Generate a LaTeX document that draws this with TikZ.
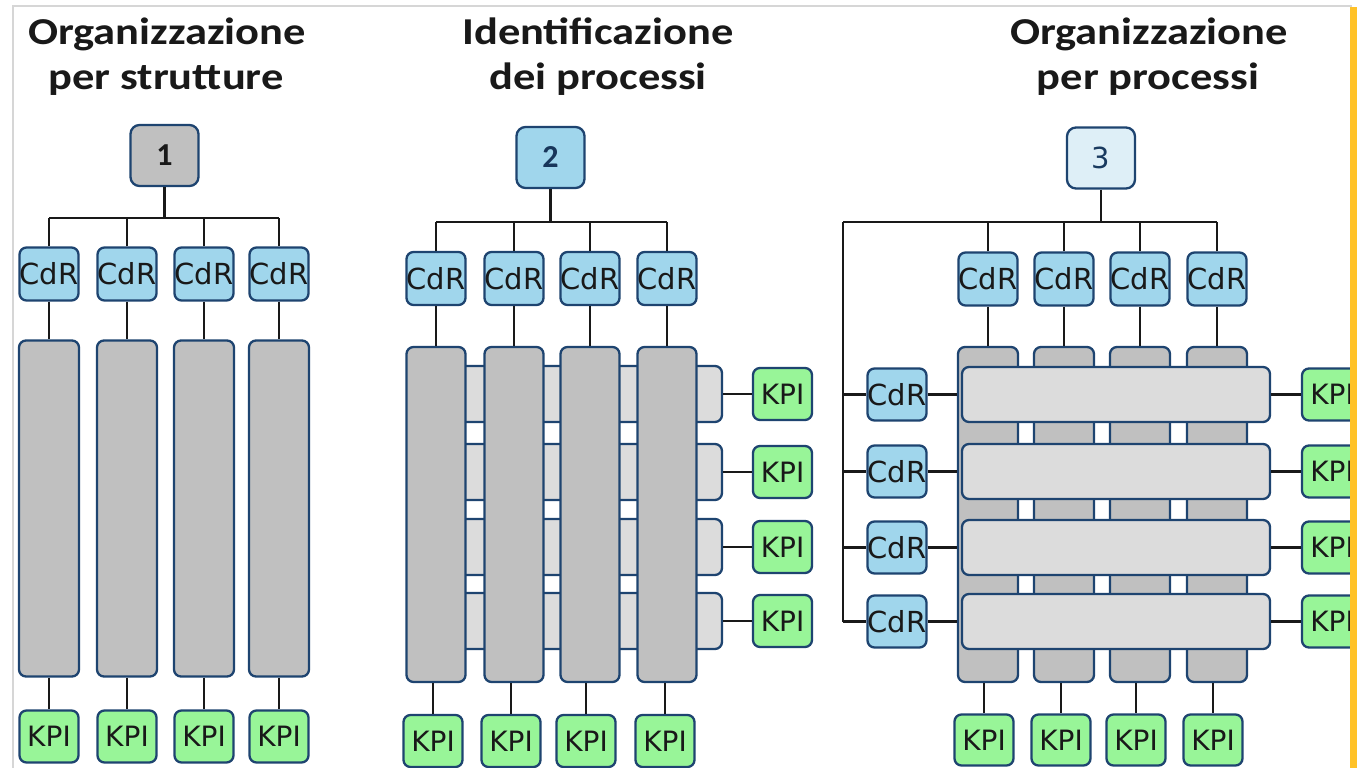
\documentclass[tikz,border=0pt]{standalone}
\usepackage{fontspec}
\setmainfont{DejaVu Sans}
\newfontfamily\titlefont{Carlito}[FakeStretch=1.17]
\newfontfamily\numfont{Carlito}
\newfontfamily\boxfont{DejaVu Sans}
\definecolor{bord}{RGB}{30,68,112}
\definecolor{darkgray}{RGB}{192,192,192}
\definecolor{litegray}{RGB}{220,220,220}
\definecolor{cdrblue}{RGB}{160,214,236}
\definecolor{kpigreen}{RGB}{152,245,152}
\definecolor{paleblue}{RGB}{222,239,247}
\definecolor{barorange}{RGB}{255,194,40}
\definecolor{framegray}{RGB}{214,214,214}
\definecolor{txt}{RGB}{25,25,25}
\tikzset{
  boxbase/.style={draw=bord, line width=2.3pt, rounded corners=7pt, inner sep=0pt, text=txt},
  cdr/.style={boxbase, fill=cdrblue, minimum width=59pt, minimum height=53pt, font=\boxfont\fontsize{29}{29}\selectfont},
  kpi/.style={boxbase, fill=kpigreen, minimum width=59pt, minimum height=52pt, font=\boxfont\fontsize{28}{28}\selectfont},
  tall/.style={boxbase, fill=darkgray, minimum width=60pt, minimum height=336pt},
  wide/.style={boxbase, fill=litegray, minimum height=56pt},
  numbox/.style={boxbase, minimum width=68pt, minimum height=61pt, rounded corners=9pt},
  ttl/.style={anchor=base, inner sep=0pt, text=txt, font=\titlefont\bfseries\fontsize{38}{38}\selectfont},
  wire/.style={line width=2.4pt, black!90}
}
\begin{document}
\begin{tikzpicture}[x=1pt,y=-1pt]
\useasboundingbox (0,0) rectangle (1357,768);
\fill[white] (0,0) rectangle (1357,768);
% frame
\draw[framegray, line width=2pt] (13,768) -- (13,6) -- (1352,6);
% ===== titles
\node[ttl] (t1a) at (167,45) {Organizzazione};
\node[ttl] (t1b) at (166,89) {per strutture};
\node[ttl] (t2a) at (598,45) {Identificazione};
\node[ttl] (t2b) at (598,89) {dei processi};
\node[ttl] (t3a) at (1149,45) {Organizzazione};
\node[ttl] (t3b) at (1148,89) {per processi};

% ===== panel 1
\node[numbox, fill=darkgray, font=\numfont\bfseries\fontsize{32}{32}\selectfont] (n1) at (164.5,155.5) {1};
\coordinate (b1) at (164.5,218);
\foreach \i/\x in {1/49,2/127,3/204,4/279}{
  \node[cdr] (c1\i) at (\x,274) {CdR};
  \node[tall] (s1\i) at (\x,508.5) {};
  \node[kpi] (k1\i) at (\x,736.5) {KPI};
  \draw[wire] (c1\i.north) -- (c1\i.north |- b1);
  \draw[wire] (c1\i.south) -- (s1\i.north);
  \draw[wire] (s1\i.south) -- (k1\i.north);
}
\draw[wire] (n1.south) -- (b1);
\draw[wire] (c11.north |- b1) -- (c14.north |- b1);

% ===== panel 2
\node[numbox, fill=cdrblue, text=bord!80!black, font=\numfont\bfseries\fontsize{32}{32}\selectfont] (n2) at (550.5,157.5) {2};
\coordinate (b2) at (550.5,222);
\foreach \i/\y in {1/394,2/472,3/547,4/621}{
  \node[wide, minimum width=292pt] (w2\i) at (576,\y) {};
  \node[kpi] (r2\i) at (782.5,\y) {KPI};
  \draw[wire] (w2\i.east) -- (r2\i.west);
}
\foreach \i/\x/\kx in {1/436/433,2/514/511,3/590/586,4/667/665}{
  \node[cdr] (c2\i) at (\x,278.5) {CdR};
  \node[tall, minimum width=59pt, minimum height=335pt] (s2\i) at (\x,514.5) {};
  \node[kpi] (k2\i) at (\kx,741) {KPI};
  \draw[wire] (c2\i.north) -- (c2\i.north |- b2);
  \draw[wire] (c2\i.south) -- (s2\i.north);
  \draw[wire] (s2\i.south -| k2\i.north) -- (k2\i.north);
}
\draw[wire] (n2.south) -- (b2);
\draw[wire] (c21.north |- b2) -- (c24.north |- b2);

% ===== panel 3
\node[numbox, fill=paleblue, text=bord!85!black, font=\boxfont\fontsize{29}{29}\selectfont] (n3) at (1101,158) {3};
\coordinate (b3) at (1101,222);
\coordinate (bl) at (843,222);
\foreach \i/\x/\kx in {1/988/984,2/1064/1061,3/1140/1136,4/1217/1213}{
  \node[cdr] (c3\i) at (\x,279) {CdR};
  \node[tall, minimum height=335pt] (s3\i) at (\x,514.5) {};
  \node[kpi, minimum height=51pt] (k3\i) at (\kx,740) {KPI};
  \draw[wire] (c3\i.north) -- (c3\i.north |- b3);
  \draw[wire] (c3\i.south) -- (s3\i.north);
  \draw[wire] (s3\i.south -| k3\i.north) -- (k3\i.north);
}
\draw[wire] (n3.south) -- (b3);
\draw[wire] (bl) -- (c34.north |- b3);
\foreach \i/\y in {1/394.5,2/471.5,3/547.5,4/621.5}{
  \node[wide, minimum width=308pt, minimum height=55pt] (w3\i) at (1116,\y) {};
  \node[cdr, minimum height=52pt] (l3\i) at (897,\y) {CdR};
  \node[kpi, minimum width=60pt] (r3\i) at (1332,\y) {KPI};
  \draw[wire] (bl |- l3\i.west) -- (l3\i.west);
  \draw[wire] (l3\i.east) -- (s31.west |- l3\i.east);
  \draw[wire] (w3\i.east) -- (r3\i.west);
}
\draw[wire] (bl) -- (bl |- l34.west);

% orange bar
\fill[barorange] (1350,7) rectangle (1357,768);
\end{tikzpicture}
\end{document}
